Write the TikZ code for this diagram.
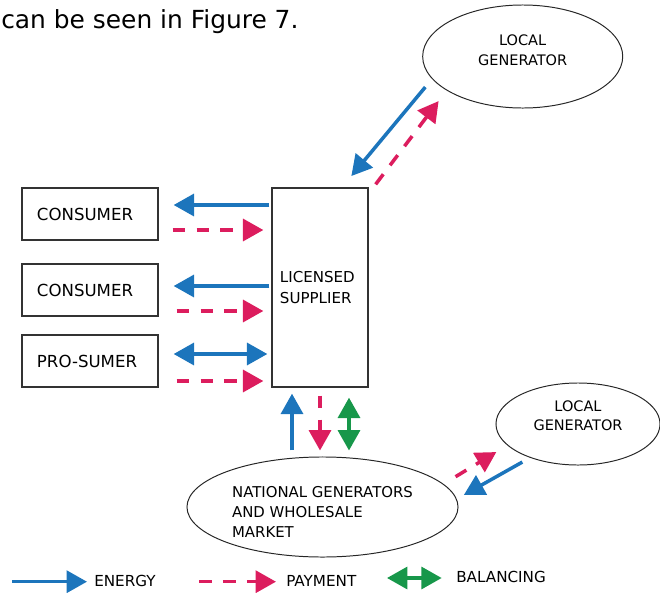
\documentclass[tikz,border=0pt]{standalone}
\usepackage{fontspec}
\setmainfont{DejaVu Sans}
\usepackage{tikz}
\usetikzlibrary{arrows.meta, positioning, calc, shapes.geometric}
\usepackage{xcolor}
\definecolor{energyBlue}{HTML}{1C75BC}
\definecolor{payPink}{HTML}{DC1D5E}
\definecolor{balGreen}{HTML}{17974A}

\begin{document}
\begin{tikzpicture}[
      x=0.025cm, y=-0.025cm,
      every node/.style={font=\fontsize{10.5pt}{13.8pt}\selectfont},
      party/.style={draw=black!80, line width=0.9pt, minimum width=3.4cm,
                    minimum height=1.3cm, text width=2.65cm, inner xsep=0.375cm,
                    align=left, font=\fontsize{11.8pt}{14pt}\selectfont},
      gen/.style={draw=black!85, line width=0.7pt, ellipse, inner sep=0pt,
                  align=center},
      energy/.style={-{Triangle[length=14.5pt, width=15.6pt]}, line width=2.5pt, energyBlue},
      energy2/.style={{Triangle[length=14.5pt, width=15.6pt]}-{Triangle[length=14.5pt, width=15.6pt]},
                      line width=2.5pt, energyBlue},
      payment/.style={-{Triangle[length=14.5pt, width=15.6pt]}, line width=2.5pt, payPink,
                      dash pattern=on 9pt off 8pt},
      balance/.style={{Triangle[length=14.5pt, width=15.6pt]}-{Triangle[length=14.5pt, width=15.6pt]},
                      line width=2.5pt, balGreen},
      legend/.style={anchor=west, inner sep=0pt, font=\fontsize{10.8pt}{13pt}\selectfont},
    ]
      \useasboundingbox (0,0) rectangle (660,593);

      \node[anchor=base west, inner sep=0pt, font=\fontsize{17.7pt}{20pt}\selectfont]
        (intro) at (1,28.5) {can be seen in Figure 7.};

      % parties
      \node[party] (con1) at (90,214) {CONSUMER};
      \node[party] (con2) at (90,290) {CONSUMER};
      \node[party] (pros) at (90,361) {PRO-SUMER};
      \node[draw=black!80, line width=0.9pt, minimum width=2.4cm, minimum height=4.975cm,
            text width=2cm, align=left, font=\fontsize{10.7pt}{14.4pt}\selectfont]
        (sup) at (320,287.5) {LICENSED\\SUPPLIER\\[-5.3pt]};

      \node[gen, minimum width=5cm, minimum height=2.575cm,
            font=\fontsize{10.3pt}{13.7pt}\selectfont]
        (lgen1) at (522.7,56.5) {LOCAL\\GENERATOR\\[-4.5pt]};
      \node[gen, minimum width=4.1cm, minimum height=2.05cm,
            font=\fontsize{10.3pt}{13.7pt}\selectfont]
        (lgen2) at (578,424) {LOCAL\\GENERATOR\\[-2.3pt]};
      \node[gen, minimum width=6.775cm, minimum height=2.5cm, align=left,
            font=\fontsize{10.6pt}{13.9pt}\selectfont]
        (nat) at (322.5,507) {\\[1pt]NATIONAL GENERATORS\\AND WHOLESALE\\MARKET};

      % supplier <-> parties
      \draw[energy]  ($(sup.west |- con1)+(-2,-9)$) -- ($(con1.east)+(15,-9)$);
      \draw[payment] ($(con1.east)+(14,16)$) -- ($(sup.west |- con1)+(-8,16)$);
      \draw[energy]  ($(sup.west |- con2)+(-2,-4)$) -- ($(con2.east)+(15,-4)$);
      \draw[payment] ($(con2.east)+(18,21)$) -- ($(sup.west |- con2)+(-8,21)$);
      \draw[energy2] ($(pros.east)+(15,-7)$) -- ($(sup.west |- pros)+(-4,-7)$);
      \draw[payment] ($(pros.east)+(18,20)$) -- ($(sup.west |- pros)+(-8,20)$);

      % supplier <-> national market
      \draw[energy]  ($(nat.north)+(-30.5,-6)$) -- ($(sup.south)+(-28,6)$);
      \draw[payment] ($(sup.south)+(0,8)$) -- ($(nat.north)+(-2.5,-6)$);
      \draw[balance] ($(sup.south)+(29,10)$) -- ($(nat.north)+(26.5,-6)$);

      % local generators
      \draw[energy]  ($(lgen1.south west)+(-26.3,-6.2)$) -- ($(sup.north east)+(-17.3,-11.3)$);
      \draw[payment] ($(sup.north east)+(7,-3)$) -- ($(lgen1.south west)+(-13,7.8)$);
      \draw[payment] ($(nat.east)+(-3,-30.3)$) -- ($(lgen2.south west)+(-23.3,-1.3)$);
      \draw[energy]  ($(lgen2.south west)+(2.7,8.7)$) -- ($(nat.east)+(5.3,-12)$);

      % legend
      \coordinate (legE1) at (12,581.7);  \coordinate (legE2) at (87,581.7);
      \coordinate (legP1) at (199,581.7); \coordinate (legP2) at (276,581.7);
      \coordinate (legB1) at (387,578);   \coordinate (legB2) at (441.7,578);
      \draw[energy]  (legE1) -- (legE2);
      \draw[payment] (legP1) -- (legP2);
      \draw[balance] (legB1) -- (legB2);
      \node[legend] (legEtxt) at (94,581)  {ENERGY};
      \node[legend] (legPtxt) at (286,581) {PAYMENT};
      \node[legend] (legBtxt) at (456,577) {BALANCING};
    \end{tikzpicture}
\end{document}
